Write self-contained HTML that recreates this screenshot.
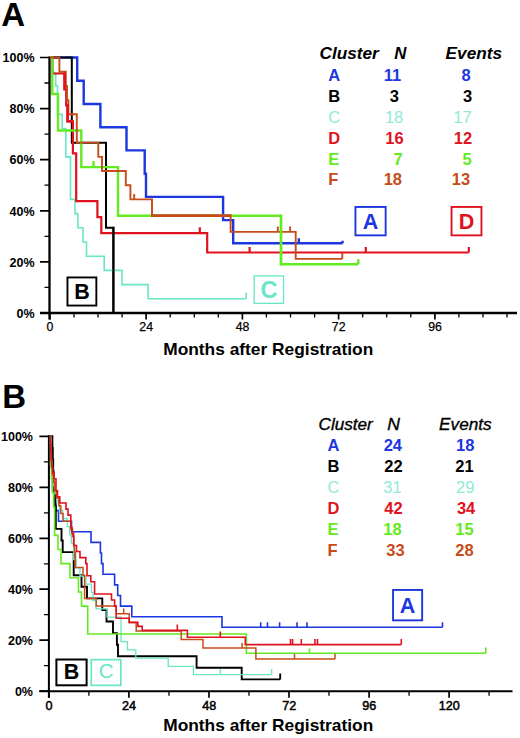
<!DOCTYPE html>
<html><head><meta charset="utf-8"><title>Figure</title>
<style>html,body{margin:0;padding:0;background:#fff}svg{display:block}text{font-family:"Liberation Sans",sans-serif}</style></head><body>
<svg width="520" height="738" viewBox="0 0 520 738">
<rect width="520" height="738" fill="#fff"/>
<g stroke="#000" fill="none"><path d="M49.5 56.5V319.5" stroke-width="2.3"/><path d="M40.0 313H517" stroke-width="2.3"/><path d="M40.0 57.5H49.5M40.0 108.6H49.5M40.0 159.7H49.5M40.0 210.8H49.5M40.0 261.9H49.5M40.0 313.0H49.5M49.9 313v6.5M146.1 313v6.5M242.4 313v6.5M338.6 313v6.5M434.9 313v6.5" stroke-width="1.7"/><path d="M44.5 83.0H49.5M44.5 134.1H49.5M44.5 185.2H49.5M44.5 236.3H49.5M44.5 287.4H49.5M74.0 313v4.6M98.0 313v4.6M122.1 313v4.6M170.2 313v4.6M194.3 313v4.6M218.3 313v4.6M266.4 313v4.6M290.5 313v4.6M314.6 313v4.6M362.7 313v4.6M386.7 313v4.6M410.8 313v4.6M458.9 313v4.6M483.0 313v4.6M507.0 313v4.6" stroke-width="1.3"/></g>
<g stroke="#000" fill="none"><path d="M48.9 435.3V697.7" stroke-width="2.0"/><path d="M39.4 691.2H512.5" stroke-width="2.0"/><path d="M39.4 436.3H48.9M39.4 487.3H48.9M39.4 538.3H48.9M39.4 589.2H48.9M39.4 640.2H48.9M39.4 691.2H48.9M48.9 691.2v6.5M128.9 691.2v6.5M209.0 691.2v6.5M289.0 691.2v6.5M369.1 691.2v6.5M449.1 691.2v6.5" stroke-width="1.7"/><path d="M43.9 461.8H48.9M43.9 512.8H48.9M43.9 563.8H48.9M43.9 614.7H48.9M43.9 665.7H48.9M88.9 691.2v4.6M169.0 691.2v4.6M249.0 691.2v4.6M329.0 691.2v4.6M409.1 691.2v4.6M489.1 691.2v4.6" stroke-width="1.3"/></g>
<g fill="none" stroke-linejoin="miter" stroke-linecap="butt">
<path d="M50.0 57.5H77.2V80.7H83.7V104.0H100.4V127.2H126.5V150.4H144.7V173.7H146.0V196.9H223.1V220.1H233.2V243.3H342.6M298.8 243.3v-5.0M342.6 243.3v-2.5" stroke="#1c36e0" stroke-width="2.4"/>
<path d="M50.0 57.5H71.8V142.7H106.0V227.8H113.4V313.0" stroke="#000000" stroke-width="2.0"/>
<path d="M50.0 57.5H52.3V72.6H55.7V85.9H57.5V114.2H62.2V128.5H65.8V156.9H70.5V199.4H75.0V213.6H77.9V227.8H83.0V242.0H86.5V256.2H104.2V270.4H122.0V284.6H148.1V298.8H246.2M246.2 298.8v-6.0" stroke="#68e6c6" stroke-width="1.6"/>
<path d="M50.0 57.5H52.4V73.5H64.4V89.4H66.2V105.4H67.4V121.4H72.9V153.3H76.2V201.2H97.4V217.2H101.3V233.2H207.2V252.5H468.8M199.8 233.2v-6.0M249.6 252.5v-5.5M365.8 252.5v-5.5M468.8 252.5v-5.5" stroke="#df1220" stroke-width="2.2"/>
<path d="M50.0 57.5H52.3V94.0H58.0V130.5H81.3V167.1H118.0V215.7H281.0V264.3H358.3M93.5 167.1v-6.0M358.3 264.3v-5.0" stroke="#64ea20" stroke-width="2.4"/>
<path d="M50.0 57.5H59.4V71.8H65.8V86.0H67.0V100.2H68.4V114.2H76.8V142.6H98.3V156.9H102.0V171.0H125.8V185.2H130.4V199.4H152.0V215.7H230.6V231.9H295.7V258.9H342.3M134.2 199.4v-5.5M277.8 231.9v-5.5M290.1 231.9v-5.5M342.3 258.9v-6.0" stroke="#c64c1a" stroke-width="1.9"/>
<path d="M281 214.6V265.4" stroke="#64ea20" stroke-width="2.4"/>
<path d="M113.4 226.8V313" stroke="#000" stroke-width="2"/>
<path d="M64.7 72.5V89.4M67.7 104V121.4H72.9" stroke="#df1220" stroke-width="2.4"/>
<path d="M151 215.7H231.5" stroke="#c64c1a" stroke-width="2.7"/>
</g>
<g fill="none" stroke-linejoin="miter" stroke-linecap="butt">
<path d="M50.0 436.3H50.5V446.9H51.0V457.5H51.6V468.1H52.5V489.4H54.0V500.0H56.0V510.6H58.5V521.2H71.5V531.8H91.0V542.4H100.4V553.0H101.5V563.6H103.0V574.3H114.6V584.9H117.7V595.5H120.5V606.1H131.8V616.7H222.0V627.3H442.5M260.7 627.3v-5.0M267.5 627.3v-5.0M279.6 627.3v-5.0M297.0 627.3v-5.0M307.0 627.3v-5.0M442.5 627.3v-5.0" stroke="#1c36e0" stroke-width="1.6"/>
<path d="M50.0 436.3H52.4V447.9H52.8V459.5H53.2V471.0H53.6V482.6H54.2V494.2H55.0V505.8H55.8V528.9H61.5V540.5H62.7V552.1H73.7V575.2H81.5V586.8H87.0V598.4H102.3V610.0H106.5V621.5H113.0V633.1H116.9V644.7H118.0V656.3H196.6V667.8H241.7V679.4H280.2M280.2 679.4v-6.0" stroke="#000000" stroke-width="1.9"/>
<path d="M50.0 436.3H50.7V452.7H51.5V469.2H52.5V477.4H53.5V485.6H55.0V493.8H57.0V502.0H59.5V510.2H62.7V518.5H67.3V526.7H69.6V534.9H71.3V543.1H73.7V559.5H76.0V567.8H80.0V576.0H86.0V584.2H91.5V592.4H93.0V600.6H96.0V608.8H107.0V617.1H121.0V641.7H127.5V649.9H135.8V658.1H168.2V666.4H193.4V674.6H271.7M220.3 674.6v-5.5M271.7 674.6v-5.5" stroke="#68e6c6" stroke-width="1.3"/>
<path d="M50.0 436.3H50.6V464.6H51.5V478.8H52.5V492.9H53.7V507.1H54.6V535.4H58.0V549.5H61.0V563.6H70.0V577.8H78.5V592.0H81.5V606.1H87.7V634.0H246.4V653.3H485.8M309.5 653.3v-4.8M485.8 653.3v-5.8" stroke="#64ea20" stroke-width="1.6"/>
<path d="M50.0 436.3H50.5V444.0H51.0V459.5H51.8V467.2H52.5V474.9H53.5V482.6H54.6V490.3H56.5V498.0H58.8V505.8H60.8V513.5H63.0V521.2H70.8V528.9H72.5V536.6H73.8V544.4H74.5V552.1H75.4V567.5H83.0V575.2H84.6V598.4H96.2V606.1H116.2V613.8H129.2V622.4H136.2V631.0H181.2V639.5H203.0V648.1H255.9V658.9H335.0M123.7 613.8v-5.2M242.1 648.1v-5.2M294.5 658.9v-5.2M335.0 658.9v-5.2" stroke="#c64c1a" stroke-width="1.5"/>
<path d="M50.0 436.3H50.4V442.4H50.7V448.4H51.0V454.5H51.3V460.6H51.7V466.6H52.6V472.7H54.2V478.8H56.0V490.9H57.5V496.9H59.8V503.0H66.0V509.1H68.0V515.1H70.8V527.3H72.0V533.3H73.7V545.5H76.5V551.5H80.0V557.6H85.8V563.6H87.0V575.8H90.8V581.8H94.6V594.0H111.5V600.0H114.6V606.1H116.2V618.2H129.2V622.4H137.9V626.4H142.2V630.4H187.4V637.2H245.3V644.6H401.3M177.3 630.4v-5.8M220.3 637.2v-5.8M290.5 644.6v-5.5M292.6 644.6v-5.5M301.3 644.6v-5.5M315.0 644.6v-5.5M317.5 644.6v-5.5M401.3 644.6v-5.5" stroke="#df1220" stroke-width="1.6"/>
</g>
<g font-size="12.5" font-weight="bold" text-anchor="end" fill="#000">
<text x="34.6" y="62.2">100%</text>
<text x="33" y="440.9">100%</text>
<text x="34.6" y="113.3">80%</text>
<text x="33" y="491.9">80%</text>
<text x="34.6" y="164.4">60%</text>
<text x="33" y="542.9">60%</text>
<text x="34.6" y="215.5">40%</text>
<text x="33" y="593.8">40%</text>
<text x="34.6" y="266.6">20%</text>
<text x="33" y="644.8">20%</text>
<text x="34.6" y="317.7">0%</text>
<text x="33" y="695.8">0%</text>
</g>
<g font-size="12.3" text-anchor="middle" fill="#000" stroke="#000" stroke-width="0.25">
<text x="50.0" y="331.4">0</text>
<text x="146.2" y="331.4">24</text>
<text x="242.5" y="331.4">48</text>
<text x="338.7" y="331.4">72</text>
<text x="435.0" y="331.4">96</text>
</g><g font-size="12.6" text-anchor="middle" fill="#000" stroke="#000" stroke-width="0.5">
<text x="49.1" y="709.8">0</text>
<text x="129.1" y="709.8">24</text>
<text x="209.2" y="709.8">48</text>
<text x="289.2" y="709.8">72</text>
<text x="369.3" y="709.8">96</text>
<text x="449.3" y="709.8">120</text>
</g>
<g font-size="17.35" font-weight="bold" fill="#000">
<text x="163.2" y="355.1">Months after Registration</text>
<text x="163.2" y="731.4">Months after Registration</text>
</g>
<g font-size="33" font-weight="bold" fill="#000">
<text x="1.2" y="26">A</text><text x="2.2" y="407.9">B</text></g>
<rect x="355.45" y="206.95" width="30.20" height="28.40" fill="#fff" stroke="#1c36e0" stroke-width="1.9"/><text x="370.6" y="228.7" text-anchor="middle" font-size="21.5" font-weight="bold" fill="#1c36e0">A</text>
<rect x="451.55" y="206.95" width="29.90" height="28.40" fill="#fff" stroke="#df1220" stroke-width="1.9"/><text x="466.5" y="228.7" text-anchor="middle" font-size="21.5" font-weight="bold" fill="#df1220">D</text>
<rect x="67.45" y="277.45" width="28.90" height="28.10" fill="#fff" stroke="#000" stroke-width="1.9"/><text x="81.9" y="298.9" text-anchor="middle" font-size="21.5" font-weight="bold" fill="#000">B</text>
<rect x="254.15" y="275.85" width="29.40" height="27.50" fill="#fff" stroke="#68e6c6" stroke-width="1.3"/><text x="268.9" y="298.3" text-anchor="middle" font-size="23.5" font-weight="bold" fill="#68e6c6">C</text>
<rect x="393.05" y="589.95" width="29.10" height="30.40" fill="#fff" stroke="#1c36e0" stroke-width="1.9"/><text x="407.6" y="612.7" text-anchor="middle" font-size="21.5" font-weight="bold" fill="#1c36e0">A</text>
<rect x="56.40" y="659.50" width="30.20" height="25.80" fill="#fff" stroke="#000" stroke-width="2"/><text x="71.5" y="678.6" text-anchor="middle" font-size="21.5" font-weight="bold" fill="#000">B</text>
<rect x="91.25" y="659.65" width="29.60" height="25.70" fill="#fff" stroke="#68e6c6" stroke-width="1.7"/><text x="106.1" y="678.3" text-anchor="middle" font-size="20.5" font-weight="normal" fill="#68e6c6">C</text>
<g font-size="17" font-style="italic" font-weight="bold" fill="#000"><text x="319.5" y="59.3" textLength="59.3" lengthAdjust="spacingAndGlyphs">Cluster</text><text x="394.2" y="59.3" textLength="12.1" lengthAdjust="spacingAndGlyphs">N</text><text x="445.6" y="59.3" textLength="56.4" lengthAdjust="spacingAndGlyphs">Events</text></g><g font-size="16.5" font-weight="bold" fill="#1c36e0"><text x="328.3" y="80.8">A</text><text x="401.2" y="80.8" text-anchor="end">11</text><text x="470.6" y="80.8" text-anchor="end">8</text></g><g font-size="16.5" font-weight="bold" fill="#000000"><text x="328.3" y="101.5">B</text><text x="399" y="101.5" text-anchor="end">3</text><text x="472.2" y="101.5" text-anchor="end">3</text></g><g font-size="16.5" font-weight="normal" fill="#8feBd6"><text x="328.3" y="122.8">C</text><text x="403.3" y="122.8" text-anchor="end">18</text><text x="471.6" y="122.8" text-anchor="end">17</text></g><g font-size="16.5" font-weight="bold" fill="#df1220"><text x="328.3" y="143.6">D</text><text x="403.6" y="143.6" text-anchor="end">16</text><text x="472.2" y="143.6" text-anchor="end">12</text></g><g font-size="16.5" font-weight="bold" fill="#64ea20"><text x="328.3" y="164.8">E</text><text x="402.6" y="164.8" text-anchor="end">7</text><text x="471.6" y="164.8" text-anchor="end">5</text></g><g font-size="16.5" font-weight="bold" fill="#c64c1a"><text x="328.3" y="185.4">F</text><text x="402" y="185.4" text-anchor="end">18</text><text x="470.1" y="185.4" text-anchor="end">13</text></g>
<g font-size="17" font-style="italic" font-weight="normal" fill="#000" stroke="#000" stroke-width="0.35"><text x="318.5" y="429.7" textLength="54.3" lengthAdjust="spacingAndGlyphs">Cluster</text><text x="387.2" y="429.7" textLength="12.7" lengthAdjust="spacingAndGlyphs">N</text><text x="439.1" y="429.7" textLength="52.5" lengthAdjust="spacingAndGlyphs">Events</text></g><g font-size="16.5" font-weight="bold" fill="#1c36e0"><text x="327.6" y="451.2">A</text><text x="402" y="451.2" text-anchor="end">24</text><text x="474.4" y="451.2" text-anchor="end">18</text></g><g font-size="16.5" font-weight="bold" fill="#000000"><text x="327.6" y="471.8">B</text><text x="402.6" y="471.8" text-anchor="end">22</text><text x="473.7" y="471.8" text-anchor="end">21</text></g><g font-size="16.5" font-weight="normal" fill="#8feBd6"><text x="327.6" y="492.9">C</text><text x="401.6" y="492.9" text-anchor="end">31</text><text x="474.4" y="492.9" text-anchor="end">29</text></g><g font-size="16.5" font-weight="bold" fill="#df1220"><text x="327.6" y="513.7">D</text><text x="402.6" y="513.7" text-anchor="end">42</text><text x="475.3" y="513.7" text-anchor="end">34</text></g><g font-size="16.5" font-weight="bold" fill="#64ea20"><text x="327.6" y="535">E</text><text x="401.6" y="535" text-anchor="end">18</text><text x="473.7" y="535" text-anchor="end">15</text></g><g font-size="16.5" font-weight="bold" fill="#c64c1a"><text x="327.6" y="555.7">F</text><text x="404.7" y="555.7" text-anchor="end">33</text><text x="473.7" y="555.7" text-anchor="end">28</text></g>
</svg></body></html>
